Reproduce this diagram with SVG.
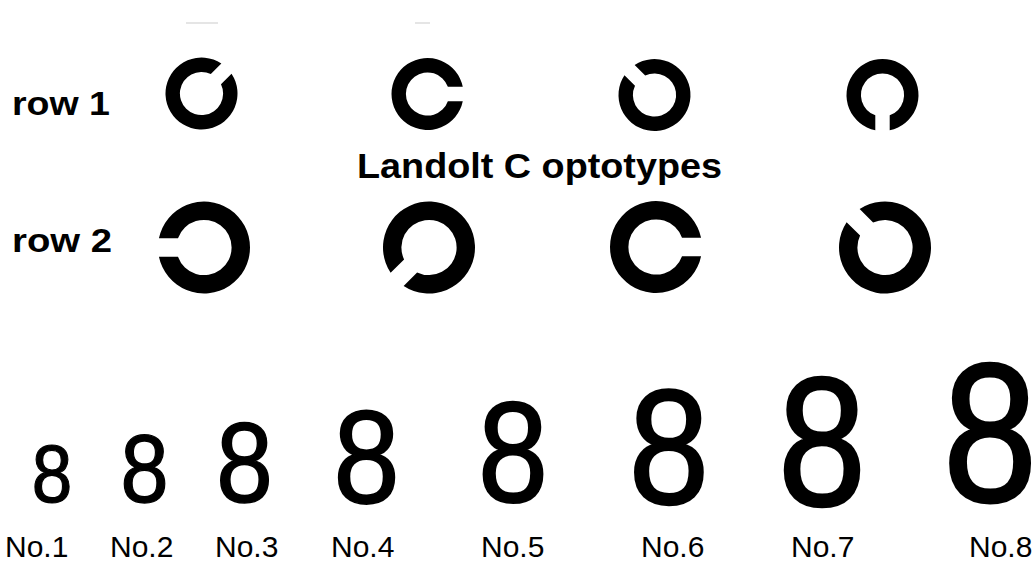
<svg xmlns="http://www.w3.org/2000/svg" width="1033" height="561" viewBox="0 0 1033 561">
  <style>
    text { font-family: "Liberation Sans", Arial, sans-serif; fill: #000; }
    .row { font-size: 33px; font-weight: bold; }
    .title { font-size: 35px; font-weight: bold; }
    .num { font-size: 30px; }
    .eight { text-anchor: middle; stroke: #000; stroke-linejoin: round; }
    .C { fill: #000; fill-rule: evenodd; }
    .faint { stroke: #dcdcdc; stroke-width: 1.5; }
  </style>
  <defs>
    <!-- Landolt C, outer radius 5, stroke 2, gap 2, gap pointing right -->
    <path id="landoltC" class="C" d="M 4.899 -1 A 5 5 0 1 0 4.899 1 L 2.828 1 A 3 3 0 1 1 2.828 -1 Z"/>
  </defs>
  <rect width="1033" height="561" fill="#fff"/>

  <g id="artifacts">
    <line class="faint" x1="186" y1="23" x2="218" y2="23"/>
    <line class="faint" x1="415" y1="23" x2="430" y2="23"/>
  </g>

  <g id="label-row1"><text class="row" x="12" y="115" textLength="98" lengthAdjust="spacingAndGlyphs">row 1</text></g>
  <g id="label-row2"><text class="row" x="12" y="252" textLength="100" lengthAdjust="spacingAndGlyphs">row 2</text></g>

  <g id="row1-c1"><use href="#landoltC" transform="translate(201.5,93.5) rotate(-45) scale(7.2)"/></g>
  <g id="row1-c2"><use href="#landoltC" transform="translate(427.5,94) rotate(0) scale(7.2)"/></g>
  <g id="row1-c3"><use href="#landoltC" transform="translate(654.5,95) rotate(-135) scale(7.2)"/></g>
  <g id="row1-c4"><use href="#landoltC" transform="translate(882.5,95) rotate(90) scale(7.2)"/></g>

  <g id="title"><text class="title" x="357" y="178" textLength="365" lengthAdjust="spacingAndGlyphs">Landolt C optotypes</text></g>

  <g id="row2-c1"><use href="#landoltC" transform="translate(204,247.5) rotate(180) scale(9.2)"/></g>
  <g id="row2-c2"><use href="#landoltC" transform="translate(429,247.5) rotate(135) scale(9.2)"/></g>
  <g id="row2-c3"><use href="#landoltC" transform="translate(656,247) rotate(0) scale(9.2)"/></g>
  <g id="row2-c4"><use href="#landoltC" transform="translate(885,247.5) rotate(-135) scale(9.2)"/></g>

  <g id="eight-1"><text class="eight" transform="translate(52,502) scale(0.9,1)" font-size="81" stroke-width="1.2">8</text></g>
  <g id="eight-2"><text class="eight" transform="translate(144.5,502) scale(0.9,1)" font-size="96" stroke-width="1.3">8</text></g>
  <g id="eight-3"><text class="eight" transform="translate(244.5,502) scale(0.9,1)" font-size="113" stroke-width="1.5">8</text></g>
  <g id="eight-4"><text class="eight" transform="translate(366.5,503) scale(0.9,1)" font-size="132" stroke-width="1.8">8</text></g>
  <g id="eight-5"><text class="eight" transform="translate(513,502) scale(0.88,1)" font-size="143" stroke-width="2">8</text></g>
  <g id="eight-6"><text class="eight" transform="translate(669,503) scale(0.88,1)" font-size="164" stroke-width="2.3">8</text></g>
  <g id="eight-7"><text class="eight" transform="translate(822,505) scale(0.86,1)" font-size="184" stroke-width="2.6">8</text></g>
  <g id="eight-8"><text class="eight" transform="translate(990,501) scale(0.86,1)" font-size="197" stroke-width="2.8">8</text></g>

  <g id="no1"><text class="num" x="5" y="557">No.1</text></g>
  <g id="no2"><text class="num" x="110" y="557">No.2</text></g>
  <g id="no3"><text class="num" x="215" y="557">No.3</text></g>
  <g id="no4"><text class="num" x="331" y="557">No.4</text></g>
  <g id="no5"><text class="num" x="481" y="557">No.5</text></g>
  <g id="no6"><text class="num" x="641" y="557">No.6</text></g>
  <g id="no7"><text class="num" x="791" y="557">No.7</text></g>
  <g id="no8"><text class="num" x="969" y="557">No.8</text></g>
</svg>
